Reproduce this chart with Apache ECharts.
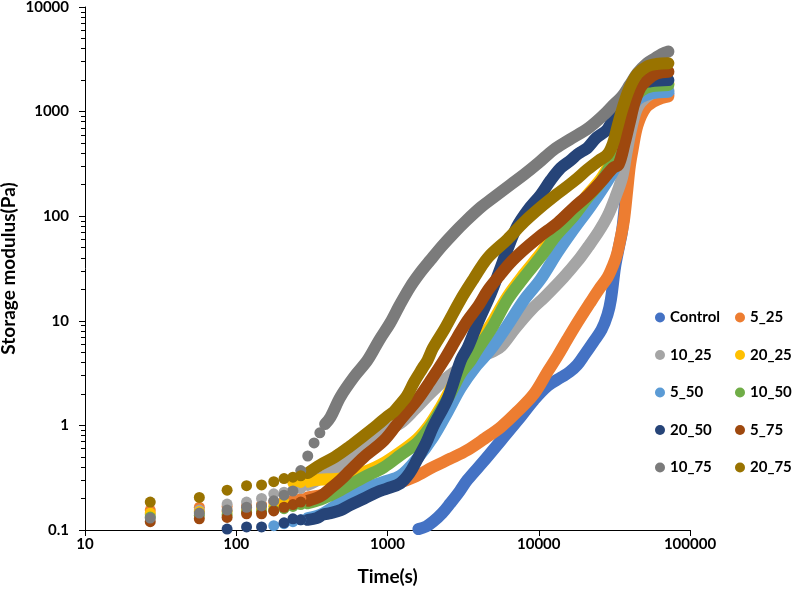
<!DOCTYPE html>
<html><head><meta charset="utf-8">
<script src="https://cdn.jsdelivr.net/npm/echarts@6/dist/echarts.min.js"></script>
<style>html,body{margin:0;padding:0;background:#fff}#c{width:794px;height:590px}</style>
</head><body><div id="c"></div>
<script>
// ---- data: [time (s), storage modulus (Pa)] ----
const control = [[1600,0.102],[1800,0.108],[2000,0.12],[2300,0.145],[2600,0.18],[3000,0.235],[3370,0.3],[4300,0.45],[5640,0.72],[7200,1.1],[9300,1.75],[11500,2.4],[14170,2.9],[16000,3.25],[18000,3.8],[20000,4.7],[23000,6.3],[26000,8.2],[28500,11.5],[30000,16],[32000,33],[34000,52],[35600,73],[37500,150],[40000,380],[42000,650],[45000,950],[50000,1200],[56000,1380],[63000,1450],[72000,1480]];
const s5_25 = [[27,0.155],[57,0.165],[87,0.168],[117,0.17],[147,0.175],[177,0.185],[207,0.19],[237,0.195],[267,0.2],[297,0.205],[400,0.22],[600,0.245],[800,0.26],[1000,0.27],[1170,0.28],[1500,0.32],[2000,0.4],[2600,0.48],[3370,0.58],[4400,0.75],[5640,0.97],[7200,1.35],[9300,2.0],[11500,3.3],[13300,4.6],[15400,6.6],[18000,9.6],[21800,14.8],[25000,20],[28500,26],[31000,34],[33000,44],[35000,65],[36600,92],[38500,180],[40000,300],[41700,430],[45000,740],[51000,1090],[60000,1290],[72000,1400]];
const s10_25 = [[27,0.14],[57,0.155],[87,0.177],[117,0.185],[147,0.2],[177,0.222],[207,0.23],[237,0.24],[267,0.25],[297,0.27],[360,0.31],[450,0.38],[565,0.5],[700,0.65],[950,0.87],[1217,1.05],[1500,1.4],[1800,1.85],[2100,2.3],[2500,2.9],[3000,3.5],[3500,4.0],[4200,4.6],[5000,5.1],[5640,5.7],[7000,8.5],[8850,12.6],[11000,17],[14600,26],[18000,37],[21200,51],[25000,72],[28500,100],[32000,150],[35600,236],[38000,400],[41000,700],[45000,1100],[52000,1400],[60000,1550],[72000,1600]];
const s20_25 = [[27,0.145],[57,0.15],[87,0.15],[117,0.155],[147,0.16],[177,0.168],[207,0.185],[237,0.28],[267,0.285],[297,0.29],[330,0.3],[400,0.305],[480,0.31],[565,0.33],[740,0.37],[900,0.42],[1200,0.55],[1570,0.74],[1900,1.02],[2250,1.5],[2600,2.2],[3054,3.4],[3560,4.6],[3900,5.8],[5000,10],[6200,17],[8000,28],[10300,44],[13000,70],[17000,108],[21000,160],[26200,235],[31400,390],[35000,640],[38000,950],[42000,1350],[48000,1650],[56000,1800],[72000,1850]];
const s5_50 = [[177,0.11],[207,0.115],[237,0.12],[267,0.125],[297,0.13],[360,0.14],[450,0.17],[565,0.22],[700,0.25],[950,0.29],[1217,0.33],[1570,0.48],[2000,0.77],[2500,1.35],[3054,2.3],[3800,3.6],[4800,5.3],[6200,9],[8000,15.8],[10300,25],[13300,45],[17000,75],[21800,122],[26200,180],[31400,277],[35600,450],[38000,700],[41000,1050],[45000,1300],[52000,1450],[60000,1520],[72000,1550]];
const s10_50 = [[27,0.133],[57,0.138],[87,0.14],[117,0.148],[147,0.15],[177,0.155],[207,0.16],[237,0.168],[267,0.175],[297,0.18],[360,0.195],[420,0.215],[490,0.24],[565,0.27],[700,0.32],[950,0.4],[1217,0.52],[1570,0.68],[1900,0.95],[2250,1.4],[2600,2.0],[3054,3.15],[3560,4.2],[3900,5.2],[5000,9],[6200,15.8],[8000,26],[10300,41],[13000,65],[17000,100],[21000,150],[26200,221],[31400,370],[35000,600],[38000,900],[42000,1300],[48000,1600],[56000,1750],[72000,1800]];
const s20_50 = [[87,0.102],[117,0.107],[147,0.107],[207,0.117],[237,0.128],[267,0.125],[297,0.125],[340,0.13],[375,0.14],[420,0.145],[490,0.155],[565,0.173],[700,0.2],[850,0.23],[1000,0.25],[1217,0.28],[1400,0.35],[1570,0.47],[1800,0.68],[2000,0.97],[2500,1.8],[3054,4.2],[3400,5.6],[4000,10],[4800,18],[5500,30],[6200,48],[7200,80],[8500,115],[10300,160],[12000,221],[14000,290],[16300,343],[18000,390],[19500,420],[21000,450],[24000,560],[28500,680],[32000,950],[35600,1220],[40000,1600],[45000,1850],[55000,1950],[72000,2000]];
const s5_75 = [[27,0.12],[57,0.128],[87,0.132],[117,0.143],[147,0.143],[177,0.152],[207,0.165],[237,0.175],[267,0.185],[297,0.19],[360,0.21],[420,0.25],[488,0.3],[565,0.37],[700,0.5],[950,0.72],[1217,1.13],[1570,1.75],[1900,2.6],[2360,4.2],[2900,7],[3370,10],[4000,14],[4600,19.5],[5500,27],[6500,36],[8000,48],[10000,63],[13300,86],[17000,120],[21800,165],[27000,230],[31000,290],[33700,310],[37000,500],[40000,800],[43000,1220],[47000,1700],[52000,2000],[60000,2300],[72000,2400]];
const s10_75 = [[27,0.13],[57,0.145],[87,0.155],[117,0.165],[147,0.17],[177,0.19],[207,0.215],[237,0.236],[267,0.37],[297,0.51],[327,0.68],[357,0.85],[387,1.03],[420,1.2],[488,1.87],[600,2.9],[738,4.2],[880,6.5],[1040,9.5],[1200,14],[1410,21],[1650,29],[1920,38],[2300,52],[2750,69],[3300,90],[4150,122],[5000,150],[6500,200],[8000,250],[10000,325],[12500,430],[16000,540],[21400,700],[27000,935],[31000,1150],[35600,1400],[40000,1800],[45000,2340],[52000,2900],[58000,3200],[65000,3550],[72000,3750]];
const s20_75 = [[27,0.185],[57,0.205],[87,0.24],[117,0.265],[147,0.27],[177,0.29],[207,0.31],[237,0.32],[267,0.33],[297,0.35],[360,0.42],[450,0.5],[565,0.63],[700,0.8],[850,1.0],[1000,1.22],[1100,1.35],[1217,1.6],[1340,1.9],[1500,2.6],[1700,3.5],[1840,4.2],[2000,5.5],[2400,8.5],[3050,16],[3700,25],[4600,40],[6200,60],[8000,88],[10300,122],[13000,160],[17000,215],[21000,280],[25000,340],[28500,390],[31000,500],[33000,700],[36000,1100],[40000,1700],[45000,2300],[52000,2700],[60000,2850],[72000,2900]];

const seriesNames = ['Control','5_25','10_25','20_25','5_50','10_50','20_50','5_75','10_75','20_75'];
const seriesData = [control, s5_25, s10_25, s20_25, s5_50, s10_50, s20_50, s5_75, s10_75, s20_75];
const colors = ['#4472C4','#ED7D31','#A5A5A5','#FFC000','#5B9BD5','#70AD47','#264478','#9E480E','#7B7B7B','#997300'];
const yMajorTicks = [0.1, 1, 10, 100, 1000, 10000];
const xMajorTicks = [10, 100, 1000, 10000, 100000];
const minorMultipliers = [2,3,4,5,6,7,8,9];
const legendCol1 = ['Control','10_25','5_50','20_50','10_75'];
const legendCol2 = ['5_25','20_25','10_50','5_75','20_75'];

// early readings are drawn as separate markers, later ones as a continuous band
function build(points, sparseUntil) {
  const out = [];
  points.forEach(p => {
    if (p[0] <= sparseUntil) { out.push(p); out.push([p[0], '-']); }
    else out.push({ value: p, symbol: 'none' });
  });
  return out;
}

const minorLog = [];
for (let d = -1; d < 4; d++) minorMultipliers.forEach(m => minorLog.push(d + Math.log10(m)));

const FONT = 'Lato';
const fmt = v => String(+(+v).toPrecision(6));

const series = seriesNames.map((n, i) => ({
  name: n, type: 'line',
  data: build(seriesData[i], n === '10_75' ? 360 : 270),
  smooth: 0.35, symbol: 'circle', symbolSize: 11, showSymbol: true, showAllSymbol: true,
  clip: false, connectNulls: false,
  lineStyle: { width: 12, color: colors[i], cap: 'round', join: 'round' },
  itemStyle: { color: colors[i], borderWidth: 0 },
  emphasis: { disabled: true },
  xAxisIndex: 0, yAxisIndex: 0
}));

const legendBase = {
  orient: 'vertical', icon: 'circle', itemWidth: 10, itemHeight: 10, itemGap: 22.5,
  top: 305, selectedMode: false,
  textStyle: { fontFamily: FONT, fontWeight: 'bold', fontSize: 15, color: '#000' }
};

const chart = echarts.init(document.getElementById('c'), null, { renderer: 'canvas' });
chart.setOption({
  animation: false,
  color: colors,
  textStyle: { fontFamily: FONT },
  grid: { left: 85, right: 104, top: 7, bottom: 60, containLabel: false, outerBoundsMode: 'none' },
  legend: [
    Object.assign({}, legendBase, { left: 650, data: legendCol1 }),
    Object.assign({}, legendBase, { left: 730, data: legendCol2 })
  ],
  xAxis: [{
    type: 'log', logBase: 10, min: xMajorTicks[0], max: xMajorTicks[xMajorTicks.length - 1],
    name: 'Time(s)', nameLocation: 'middle', nameGap: 37, nameMoveOverlap: false,
    nameTextStyle: { fontFamily: FONT, fontWeight: 'bold', fontSize: 19, color: '#000' },
    axisLine: { show: true, onZero: false, lineStyle: { color: '#000', width: 1 } },
    axisTick: { show: true, length: 6, lineStyle: { color: '#000' } },
    axisLabel: { margin: 7, fontFamily: FONT, fontWeight: 'bold', fontSize: 15, color: '#000', formatter: fmt },
    splitLine: { show: false }, minorTick: { show: false }
  }],
  yAxis: [{
    type: 'log', logBase: 10, min: yMajorTicks[0], max: yMajorTicks[yMajorTicks.length - 1],
    name: 'Storage modulus(Pa)', nameLocation: 'middle', nameGap: 67, nameRotate: 90, nameMoveOverlap: false,
    nameTextStyle: { fontFamily: FONT, fontWeight: 'bold', fontSize: 19, color: '#000' },
    axisLine: { show: true, onZero: false, lineStyle: { color: '#000', width: 1 } },
    axisTick: { show: true, length: 6, lineStyle: { color: '#000' } },
    axisLabel: { margin: 16, fontFamily: FONT, fontWeight: 'bold', fontSize: 15, color: '#000', formatter: fmt },
    splitLine: { show: false }
  }, {
    type: 'value', min: -1, max: 4, position: 'left',
    axisLine: { show: false, onZero: false }, axisLabel: { show: false }, splitLine: { show: false },
    axisTick: { show: true, length: 4, customValues: minorLog, lineStyle: { color: '#000' } }
  }],
  series: series
});
</script>
</body></html>
